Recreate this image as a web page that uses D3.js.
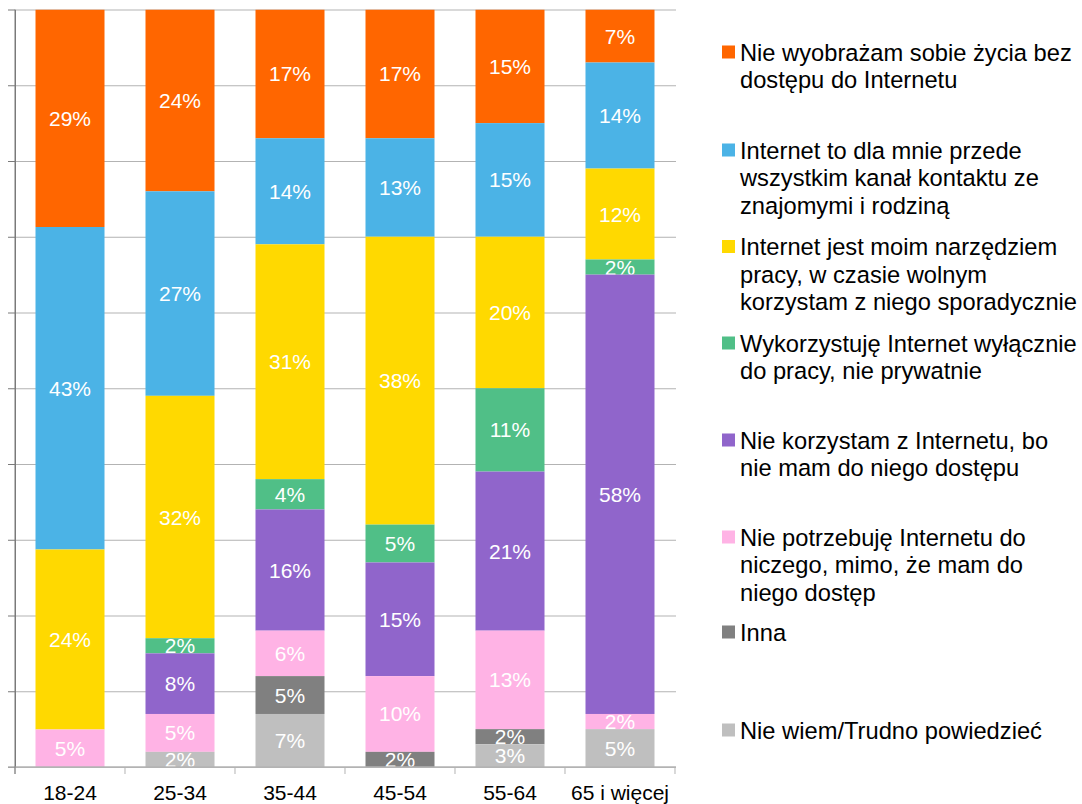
<!DOCTYPE html>
<html>
<head>
<meta charset="utf-8">
<script src="https://cdn.jsdelivr.net/npm/d3@7"></script>
<style>
  body { margin: 0; background: #fff; }
  svg { font-family: "Liberation Sans", Arial, sans-serif; }
</style>
</head>
<body>
<script>
var categories = ["18-24", "25-34", "35-44", "45-54", "55-64", "65 i więcej"];

var seriesNames = [
  "Nie wyobrażam sobie życia bez|dostępu do Internetu",
  "Internet to dla mnie przede|wszystkim kanał kontaktu ze|znajomymi i rodziną",
  "Internet jest moim narzędziem|pracy, w czasie wolnym|korzystam z niego sporadycznie",
  "Wykorzystuję Internet wyłącznie|do pracy, nie prywatnie",
  "Nie korzystam z Internetu, bo|nie mam do niego dostępu",
  "Nie potrzebuję Internetu do|niczego, mimo, że mam do|niego dostęp",
  "Inna",
  "Nie wiem/Trudno powiedzieć"
];

var colors = ["#ff6600", "#4bb3e6", "#ffd900", "#50bf87", "#9065cb", "#ffb3e5", "#808080", "#bfbfbf"];

// values per series, one per category
var noLife   = [29, 24, 17, 17, 15, 7];
var contact  = [43, 27, 14, 13, 15, 14];
var work     = [24, 32, 31, 38, 20, 12];
var onlyWork = [0, 2, 4, 5, 11, 2];
var noAccess = [0, 8, 16, 15, 21, 58];
var noNeed   = [5, 5, 6, 10, 13, 2];
var other    = [0, 0, 5, 2, 2, 0];
var dontKnow = [0, 2, 7, 0, 3, 5];

var seriesValues = [noLife, contact, work, onlyWork, noAccess, noNeed, other, dontKnow];

var W = 1082, H = 804;
var plotTop = 9.5, plotBottom = 767, plotLeft = 15, plotRight = 675;

var rows = categories.map(function(c, i) {
  var r = { cat: c };
  seriesValues.forEach(function(s, j) { r["s" + j] = s[i]; });
  return r;
});

// stack from bottom (last series) up to the top (first series)
var keys = seriesValues.map(function(s, j) { return "s" + j; });
var stack = d3.stack().keys(keys.slice().reverse()).offset(d3.stackOffsetExpand);
var stacked = stack(rows);
var byKey = {};
stacked.forEach(function(l) { byKey[l.key] = l; });

var x = d3.scaleBand().domain(categories).range([plotLeft, plotRight])
  .paddingInner(0.3727).paddingOuter(0.1864);
var y = d3.scaleLinear().domain([0, 1]).range([plotBottom, plotTop]);

var svg = d3.select("body").append("svg")
  .attr("width", W).attr("height", H);

svg.append("defs").append("clipPath").attr("id", "plot")
  .append("rect").attr("x", plotLeft).attr("y", plotTop)
  .attr("width", plotRight - plotLeft).attr("height", plotBottom - plotTop);

// grid lines
svg.append("g")
  .attr("transform", "translate(" + plotLeft + ",0)")
  .call(d3.axisRight(y).ticks(10).tickSize(plotRight - plotLeft + 1).tickFormat(""))
  .call(function(g) {
    g.select(".domain").remove();
    g.selectAll(".tick line").attr("stroke", "#b3b3b3");
  });

// left axis ticks
svg.append("g")
  .attr("transform", "translate(" + plotLeft + ",0)")
  .call(d3.axisLeft(y).ticks(10).tickSize(7).tickSizeOuter(0).tickFormat(""))
  .call(function(g) {
    g.select(".domain").attr("stroke", "#7a7a7a");
    g.selectAll(".tick line").attr("stroke", "#7a7a7a");
  });

// bars, drawn from the top series down so lower segments cover overflowing labels
var barsG = svg.append("g").attr("clip-path", "url(#plot)");
keys.forEach(function(k, j) {
  var layer = byKey[k];
  var g = barsG.append("g");
  g.selectAll("rect").data(layer).enter().append("rect")
    .attr("x", function(d) { return x(d.data.cat); })
    .attr("width", x.bandwidth())
    .attr("y", function(d) { return y(d[1]); })
    .attr("height", function(d) { return y(d[0]) - y(d[1]); })
    .attr("fill", colors[j]);
  g.selectAll("text").data(layer.filter(function(d) { return d.data[k] > 0; }))
    .enter().append("text")
    .attr("x", function(d) { return x(d.data.cat) + x.bandwidth() / 2; })
    .attr("y", function(d) { return (y(d[0]) + y(d[1])) / 2 + 7.5; })
    .attr("text-anchor", "middle")
    .attr("fill", "#fff")
    .attr("font-size", 21)
    .text(function(d) { return d.data[k] + "%"; });
});

// x axis
svg.append("line")
  .attr("x1", plotLeft - 7).attr("x2", plotRight + 1)
  .attr("y1", plotBottom).attr("y2", plotBottom)
  .attr("stroke", "#b3b3b3").attr("stroke-width", 1.5);
svg.append("g").selectAll("line")
  .data(d3.range(categories.length + 1)).enter().append("line")
  .attr("x1", function(i) { return plotLeft + i * x.step(); })
  .attr("x2", function(i) { return plotLeft + i * x.step(); })
  .attr("y1", plotBottom).attr("y2", plotBottom + 7)
  .attr("stroke", "#b3b3b3");
svg.append("line")
  .attr("x1", plotLeft).attr("x2", plotLeft)
  .attr("y1", plotTop).attr("y2", plotBottom + 7)
  .attr("stroke", "#7a7a7a");

svg.append("g").selectAll("text")
  .data(categories).enter().append("text")
  .attr("x", function(c) { return x(c) + x.bandwidth() / 2; })
  .attr("y", 800)
  .attr("text-anchor", "middle")
  .attr("font-size", 21)
  .attr("fill", "#000")
  .text(function(c) { return c; });

// legend
var legendY = [52, 150, 246.5, 343, 440, 537, 632, 730];
var legend = svg.append("g");
seriesNames.forEach(function(name, j) {
  var g = legend.append("g").attr("transform", "translate(722," + legendY[j] + ")");
  g.append("rect").attr("x", 0).attr("y", -6.5).attr("width", 13).attr("height", 13)
    .attr("fill", colors[j]);
  var t = g.append("text").attr("x", 18).attr("y", 8.5)
    .attr("font-size", 23.7).attr("fill", "#000");
  name.split("|").forEach(function(line, i) {
    t.append("tspan").attr("x", 18).attr("dy", i === 0 ? 0 : 27.5).text(line);
  });
});
</script>
</body>
</html>
